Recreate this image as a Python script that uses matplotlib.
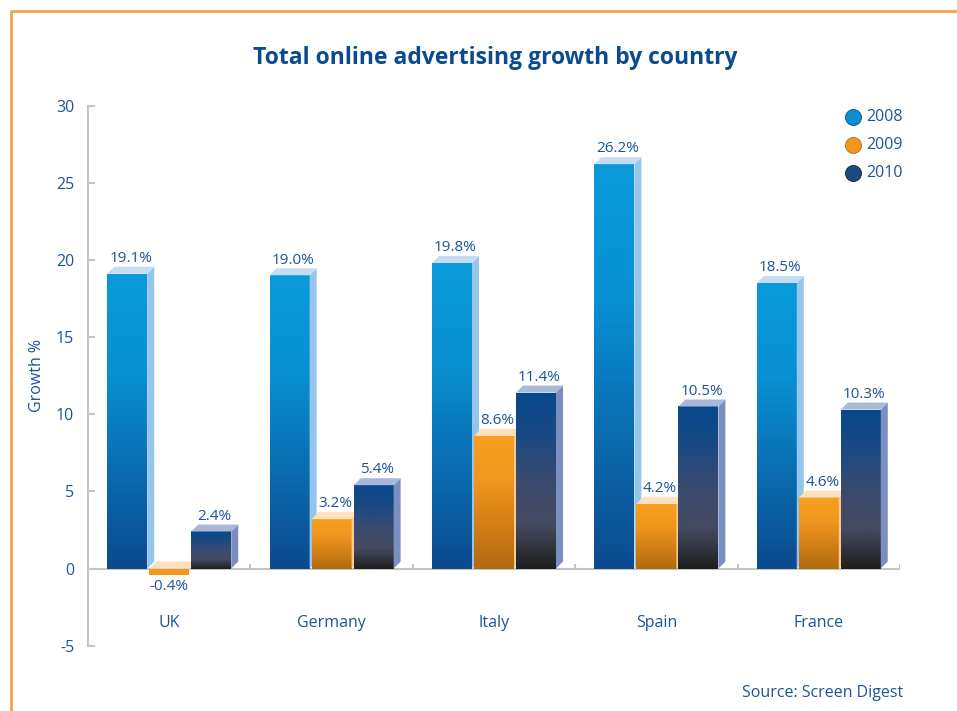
import numpy as np
import matplotlib
matplotlib.use("Agg")
import matplotlib.pyplot as plt
from matplotlib.colors import LinearSegmentedColormap
from matplotlib.patches import Polygon, Rectangle

countries = ["UK", "Germany", "Italy", "Spain", "France"]
years = ["2008", "2009", "2010"]
growth_2008 = [19.1, 19.0, 19.8, 26.2, 18.5]
growth_2009 = [-0.4, 3.2, 8.6, 4.2, 4.6]
growth_2010 = [2.4, 5.4, 11.4, 10.5, 10.3]

TEXT = "#1c5496"
TITLE = "#0b4a8e"
AXIS = "#c4c4c4"

# front gradient (top -> bottom), side face, top face
styles = [
    (["#0a9ad9", "#0890d2", "#0a6cb0", "#0c4a8e"], "#95c5ea", "#c4ddf2"),
    (["#f7a021", "#f1961e", "#d27f16", "#b06a10"], "#fbc98c", "#fde0be"),
    (["#07488c", "#1b4a84", "#3a4a70", "#464a60", "#1e1e1e"], "#7a8fc0", "#aab8d8"),
]

plt.rcParams["font.family"] = ["Open Sans", "DejaVu Sans"]
plt.rcParams["axes.unicode_minus"] = False

fig = plt.figure(figsize=(9.57, 7.11), dpi=100)
ax = fig.add_axes([0.092, 0.0918, 0.8484, 0.7598])
xmin, xmax, ymin, ymax = -0.5, 4.5, -5, 30
ax.set_xlim(xmin, xmax)
ax.set_ylim(ymin, ymax)

# pixel sizes converted to data units
bbox = ax.get_window_extent()
px_x = (xmax - xmin) / bbox.width
px_y = (ymax - ymin) / bbox.height
bar_w = 40 * px_x
gap = 2 * px_x
dx = 7 * px_x
dy = 7 * px_y

series = [growth_2008, growth_2009, growth_2010]
for s, (vals, (grad, side_c, top_c)) in enumerate(zip(series, styles)):
    cmap = LinearSegmentedColormap.from_list(f"g{s}", grad[::-1])
    for i, v in enumerate(vals):
        x0 = i + (s - 1) * (bar_w + gap) - bar_w / 2
        x1 = x0 + bar_w
        z = 2 + s
        if v >= 0:
            ramp = np.linspace(0, 1, 256).reshape(-1, 1)
            ax.imshow(ramp, cmap=cmap, origin="lower", aspect="auto",
                      extent=(x0, x1, 0, v), zorder=z, interpolation="bilinear")
            ax.add_patch(Polygon([(x1, 0), (x1, v), (x1 + dx, v + dy), (x1 + dx, dy)],
                                 closed=True, fc=side_c, ec="none", zorder=z))
            ax.add_patch(Polygon([(x0, v), (x1, v), (x1 + dx, v + dy), (x0 + dx, v + dy)],
                                 closed=True, fc=top_c, ec="none", zorder=z))
            ax.text((x0 + x1 + dx) / 2, v + dy + 0.05, f"{v:.1f}%", ha="center",
                    va="bottom", fontsize=11, color=TEXT, zorder=10)
        else:
            ax.add_patch(Polygon([(x0, 0), (x1, 0), (x1 + dx, dy), (x0 + dx, dy)],
                                 closed=True, fc=top_c, ec="none", zorder=z))
            ax.add_patch(Rectangle((x0, v), bar_w, -v, fc=grad[1], ec="none", zorder=z))
            ax.text((x0 + x1) / 2, v - 0.25, f"{v:.1f}%", ha="center", va="top",
                    fontsize=11, color=TEXT, zorder=10)

# axes styling
for side in ["top", "right", "bottom"]:
    ax.spines[side].set_visible(False)
ax.spines["left"].set_color(AXIS)
ax.spines["left"].set_linewidth(1.5)
ax.axhline(0, color=AXIS, lw=1.5, zorder=1)
ax.vlines(np.arange(len(countries)) + 0.5, 0, 5 * px_y, color=AXIS, lw=1.5, zorder=1)
ax.set_yticks(np.arange(-5, 31, 5))
ax.tick_params(axis="y", direction="in", length=5, width=1.5, color=AXIS,
               labelsize=11.5, labelcolor=TEXT, pad=10)
ax.set_xticks([])
ax.set_ylabel("Growth %", fontsize=11.5, color=TEXT, labelpad=8)

for i, name in enumerate(countries):
    ax.text(i, -3.55, name, ha="center", va="center", fontsize=11.5, color=TEXT)

fig.text(0.517, 0.918, "Total online advertising growth by country", ha="center",
         va="center", fontsize=16.5, fontweight="bold", color=TITLE)
fig.text(0.944, 0.026, "Source: Screen Digest", ha="right", va="center",
         fontsize=11.5, color=TEXT)

# legend
legend_y = [0.835, 0.796, 0.757]
for (grad, _, _), yr, ly in zip(styles, years, legend_y):
    fig.add_artist(plt.Line2D([0.891], [ly], marker="o", markersize=11.5,
                              markerfacecolor=grad[1], markeredgecolor=grad[-1],
                              markeredgewidth=0.6, transform=fig.transFigure))
    fig.text(0.905, ly, yr, ha="left", va="center", fontsize=11.5, color=TEXT)

# frame
fig.add_artist(plt.Line2D([0.0115, 0.0115, 1.0], [0.0, 0.9845, 0.9845],
                          color="#f6a24c", lw=2, transform=fig.transFigure))

fig.savefig("out.png", dpi=100)
